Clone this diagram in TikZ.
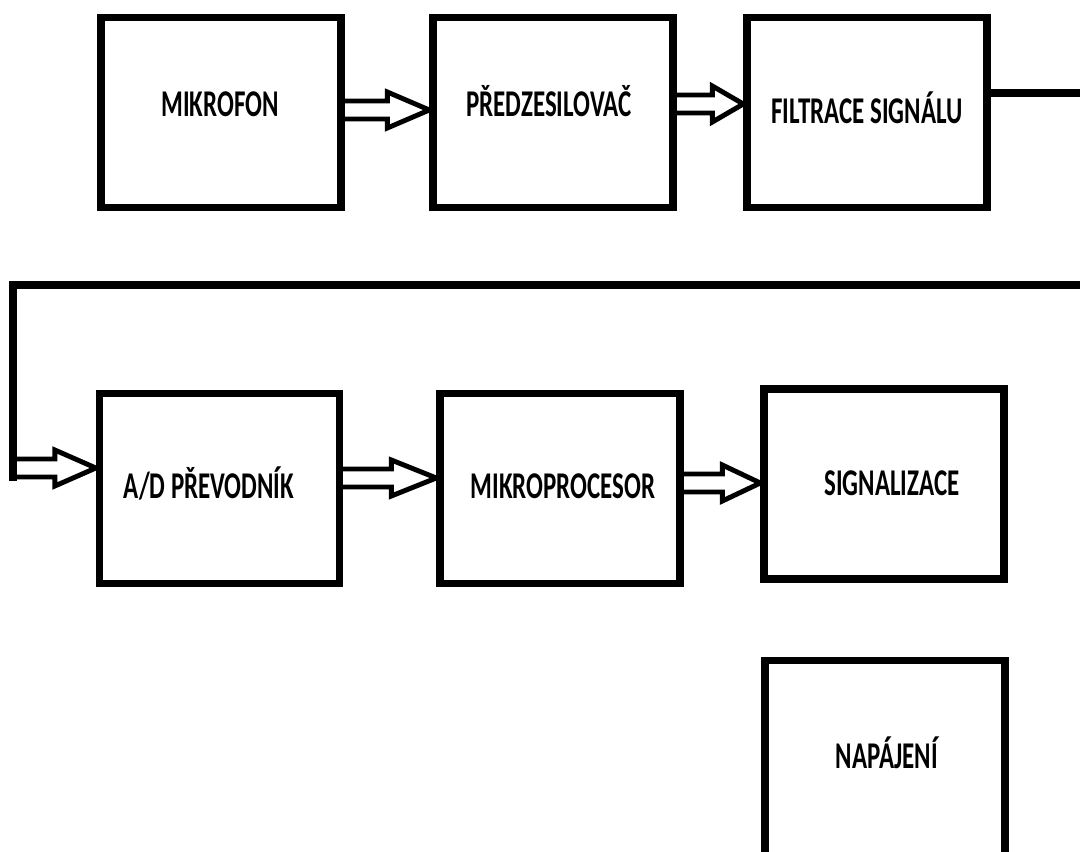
\documentclass[tikz,border=0pt]{standalone}
\usepackage{fontspec}
\setmainfont{Carlito}[FakeStretch=0.66]
\usetikzlibrary{calc}

% hollow double-line arrow: start, tip, head length
\newcommand{\fatarrow}[3][40]{%
  \draw[hollow] ($(#2)+(0,-9)$) -- ($(#3)+(-#1,-9)$) -- ($(#3)+(-#1,-18)$)
    -- (#3) -- ($(#3)+(-#1,18)$) -- ($(#3)+(-#1,9)$) -- ($(#2)+(0,9)$);}

\begin{document}
\begin{tikzpicture}[x=0.02cm,y=-0.02cm,
    block/.style={draw,line width=4.2pt,minimum width=4.8cm,minimum height=3.8cm,inner sep=0pt},
    lbl/.style={font=\fontsize{21.5}{24}\selectfont\bfseries,inner sep=0pt,text height=13.5pt,text depth=0pt},
    hollow/.style={line width=2.8pt,miter limit=4},
    wire/.style={line width=4.6pt}]
  \useasboundingbox (0,0) rectangle (1080,852);

  % first row of blocks
  \node[block] (mic) at (221,112.5) {};
  \node[block] (pre) at (553,112.5) {};
  \node[block] (fil) at (867,112.5) {};
  \node[lbl] (micT) at (220,105) {MIKROFON};
  \node[lbl] (preT) at (549,105) {PŘEDZESILOVAČ};
  \node[lbl] (filT) at (867,112) {FILTRACE SIGNÁLU};

  % second row of blocks
  \node[block] (adc) at (219.5,488.5) {};
  \node[block] (mcu) at (560,488.5) {};
  \node[block] (sig) at (884,484) {};
  \node[lbl] (adcT) at (209,487) {A/D PŘEVODNÍK};
  \node[lbl] (mcuT) at (563,487) {MIKROPROCESOR};
  \node[lbl] (sigT) at (892,484) {SIGNALIZACE};

  % power supply, cut by the lower edge
  \node[block,minimum height=3.95cm] (pwr) at (885,759) {};
  \node[lbl] (pwrT) at (887,757) {NAPÁJENÍ};

  % wire running off the right edge and back in
  \coordinate (edgeA) at (1080,93);
  \coordinate (edgeB) at (1080,285);
  \coordinate (bendL) at (13,285);
  \coordinate (dropL) at (13,481);
  \draw[wire] (fil.east |- edgeA) -- (edgeA);
  \draw[wire] (edgeB) -- (bendL) -- (dropL);

  % hollow arrows between the blocks
  \coordinate (a1s) at (mic.east |- 0,110);
  \coordinate (a1e) at (pre.west |- 0,110);
  \coordinate (a2s) at (pre.east |- 0,104);
  \coordinate (a2e) at (fil.west |- 0,104);
  \coordinate (a3s) at (13,468);
  \coordinate (a3e) at (adc.west |- 0,468);
  \coordinate (a4s) at (adc.east |- 0,478);
  \coordinate (a4e) at (mcu.west |- 0,478);
  \coordinate (a5s) at (mcu.east |- 0,483);
  \coordinate (a5e) at (sig.west |- 0,483);
  \fatarrow[42]{a1s}{a1e}
  \fatarrow[31]{a2s}{a2e}
  \fatarrow[41]{a3s}{a3e}
  \fatarrow[45]{a4s}{a4e}
  \fatarrow[38]{a5s}{a5e}

\end{tikzpicture}
\end{document}
